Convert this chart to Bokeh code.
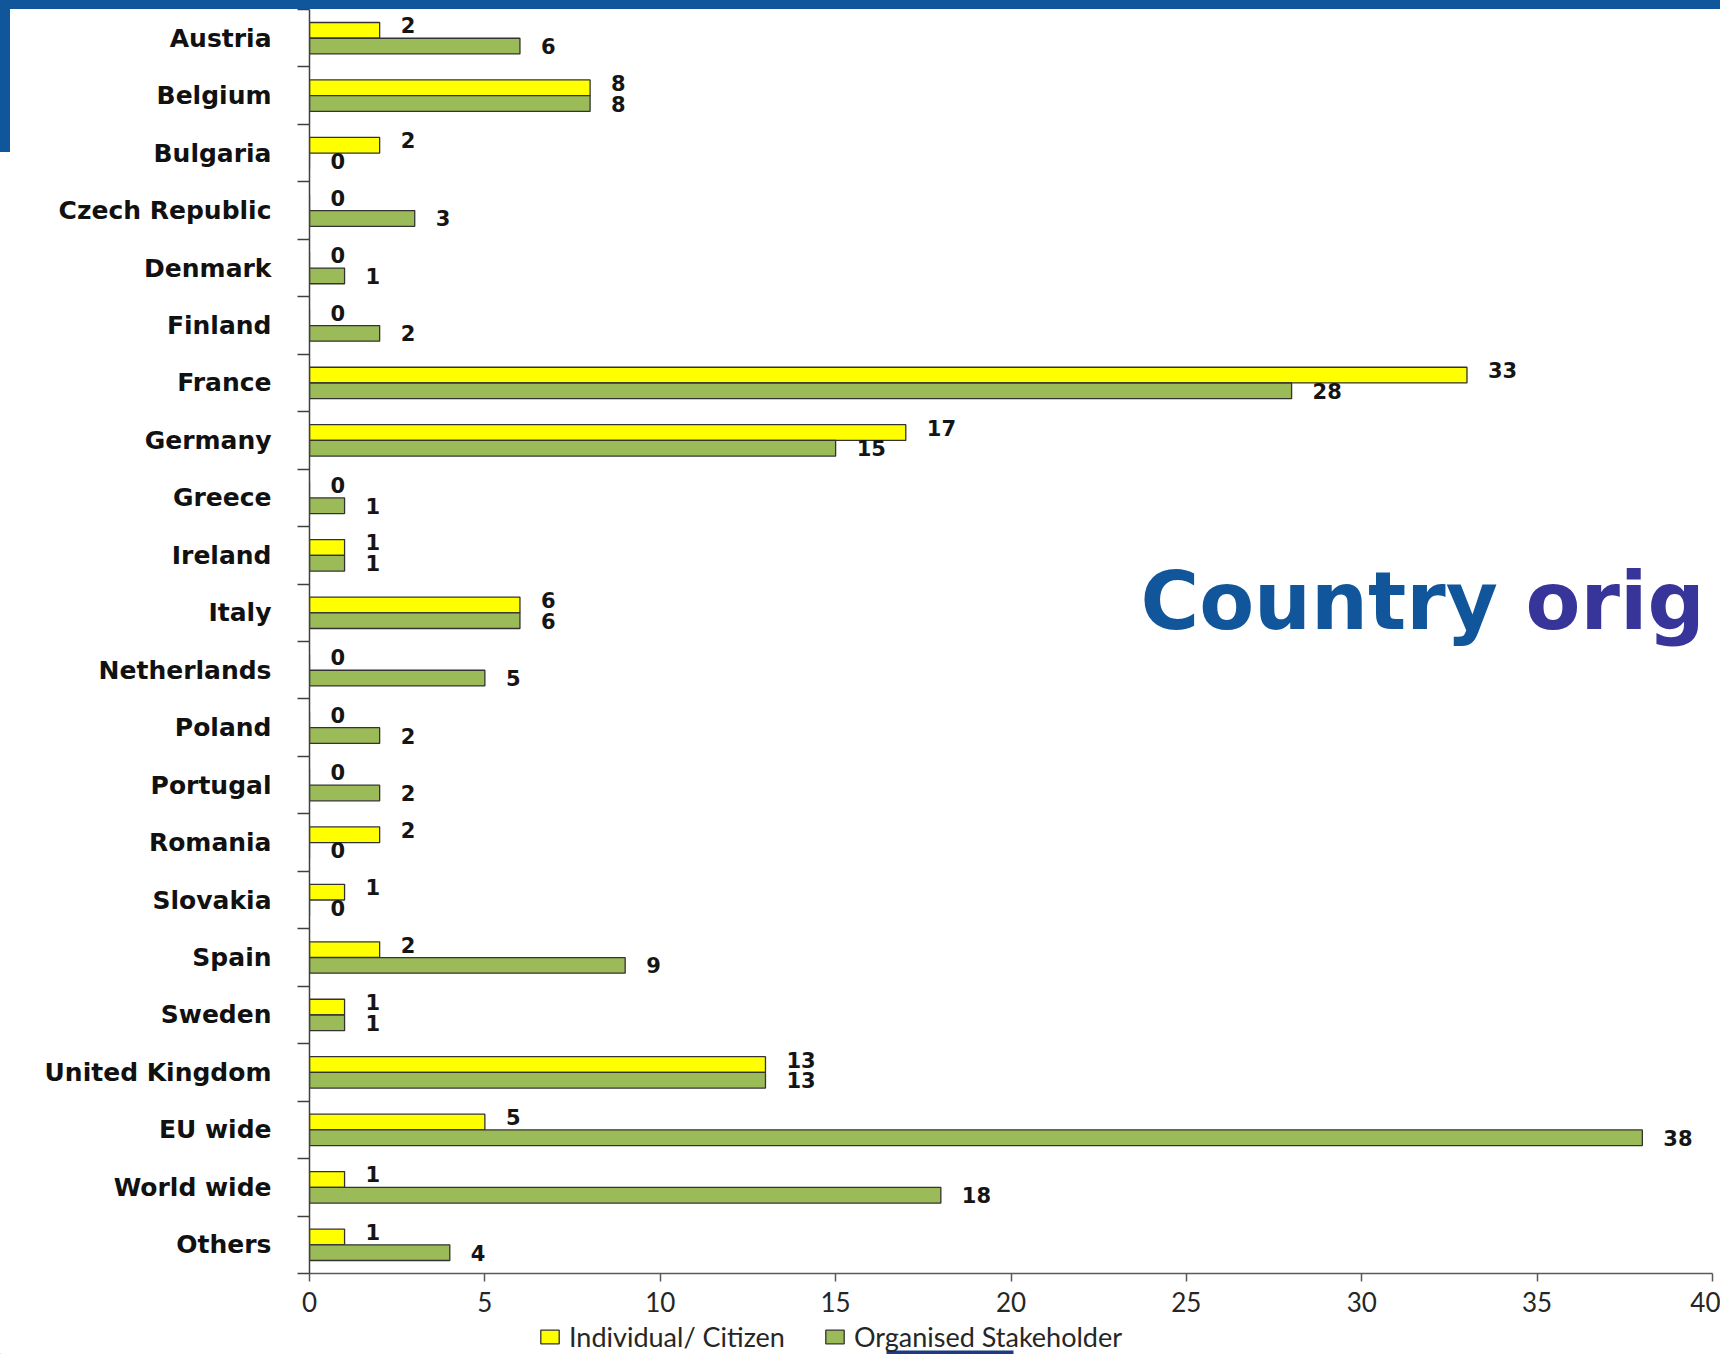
import numpy as np
from bokeh.plotting import figure
from bokeh.models import (Range1d, FixedTicker, ColumnDataSource, Legend, LegendItem,
                          Label, Spacer, BoxAnnotation)
from bokeh.layouts import column, row
from bokeh.transform import dodge
from bokeh.core.properties import value
from bokeh.embed import file_html
from bokeh.resources import INLINE

countries = ["Austria", "Belgium", "Bulgaria", "Czech Republic", "Denmark", "Finland",
             "France", "Germany", "Greece", "Ireland", "Italy", "Netherlands", "Poland",
             "Portugal", "Romania", "Slovakia", "Spain", "Sweden", "United Kingdom",
             "EU wide", "World wide", "Others"]
individual = [2, 8, 2, 0, 0, 0, 33, 17, 0, 1, 6, 0, 0, 0, 2, 1, 2, 1, 13, 5, 1, 1]
organised = [6, 8, 0, 3, 1, 2, 28, 15, 1, 1, 6, 5, 2, 2, 0, 0, 9, 1, 13, 38, 18, 4]
x_ticks = [0, 5, 10, 15, 20, 25, 30, 35, 40]
series_names = ["Individual/ Citizen", "Organised Stakeholder"]
series_colors = ["#FFFF00", "#9BBB59"]
title_part1 = "Country"
title_part2 = "orig"

n = len(countries)
pos = [n - 1 - i for i in range(n)]
src = ColumnDataSource(dict(
    pos=pos, country=countries, ind=individual, org=organised,
    ind_lbl=[str(v) for v in individual], org_lbl=[str(v) for v in organised]))

p = figure(width=1710, height=1311, output_backend="svg", toolbar_location=None,
           x_range=Range1d(0, 40), y_range=Range1d(-0.5, n - 0.5),
           min_border_left=299, min_border_right=8, min_border_top=0,
           min_border_bottom=47, outline_line_color=None,
           background_fill_color="white", border_fill_color="white")
p.grid.visible = False

BH = 0.273
DY = 0.137
p.hbar(y=dodge('pos', DY), left=0, right='ind', height=BH,
       fill_color=series_colors[0], line_color="#333333", line_width=1.3, source=src)
p.hbar(y=dodge('pos', -DY), left=0, right='org', height=BH,
       fill_color=series_colors[1], line_color="#333333", line_width=1.3, source=src)

lbl_kw = dict(text_align='left', text_baseline='middle', text_font=value("DejaVu Sans"),
              text_font_style='bold', text_font_size='21px', text_color='#151515', source=src)
p.text(x='ind', y=dodge('pos', DY), text='ind_lbl', x_offset=21, y_offset=-5, **lbl_kw)
p.text(x='org', y=dodge('pos', -DY), text='org_lbl', x_offset=21, y_offset=0, **lbl_kw)

xa = p.xaxis[0]
xa.ticker = FixedTicker(ticks=x_ticks)
xa.major_tick_out = 8
xa.major_tick_in = 0
xa.minor_tick_out = 0
xa.minor_tick_in = 0
xa.axis_line_color = "#595959"
xa.axis_line_width = 1.5
xa.major_tick_line_color = "#595959"
xa.major_tick_line_width = 1.5
xa.major_label_text_font = "Lato"
xa.major_label_text_font_size = "26px"
xa.major_label_text_color = "#262626"
xa.major_label_standoff = 10

ya = p.yaxis[0]
ya.ticker = FixedTicker(ticks=pos, minor_ticks=[k - 0.5 for k in range(n + 1)])
ya.major_tick_out = 0
ya.major_tick_in = 0
ya.minor_tick_out = 12
ya.minor_tick_in = 0
ya.axis_line_color = "#404040"
ya.axis_line_width = 1.5
ya.minor_tick_line_color = "#404040"
ya.minor_tick_line_width = 1.5
overrides = {}
for pp, c in zip(pos, countries):
    overrides[pp] = c
    overrides[str(pp)] = c
ya.major_label_overrides = overrides
ya.major_label_text_font = "DejaVu Sans"
ya.major_label_text_font_style = "bold"
ya.major_label_text_font_size = "25px"
ya.major_label_text_color = "#111111"
ya.major_label_standoff = 26

p.add_layout(Label(x=23.69, y=11.19, text=title_part1, text_font="DejaVu Sans",
                   text_font_style="bold", text_font_size="80px", text_color="#11569A",
                   text_baseline="alphabetic"))
p.add_layout(Label(x=34.67, y=11.19, text=title_part2, text_font="DejaVu Sans",
                   text_font_style="bold", text_font_size="80px", text_color="#37349A",
                   text_baseline="alphabetic"))

# legend strip below the chart (swatch renderers sit outside the visible range)
lg = figure(width=1720, height=34, output_backend="svg", toolbar_location=None,
            x_axis_type=None, y_axis_type=None, min_border=0, outline_line_color=None,
            x_range=Range1d(0, 1), y_range=Range1d(0, 1),
            background_fill_color="white", border_fill_color="white")
lg.grid.visible = False
sw = [lg.hbar(y=[-5], left=[-5], right=[-4.9], height=0.1, fill_color=c,
              line_color="#333333", line_width=1.3) for c in series_colors]
legend = Legend(items=[LegendItem(label=nm, renderers=[r]) for nm, r in zip(series_names, sw)],
                orientation='horizontal', location=(538, 1), padding=0, margin=0,
                spacing=38, label_standoff=8, glyph_width=23, glyph_height=17,
                label_height=20,
                label_text_font="Lato", label_text_font_size="27px",
                label_text_color="#262626",
                border_line_color=None, background_fill_alpha=0)
lg.add_layout(legend, 'center')
lg.add_layout(BoxAnnotation(left=886 / 1720, right=1013 / 1720, bottom=0, top=4 / 34,
                            fill_color="#1F3A80", fill_alpha=1, line_color=None))

blue = {"background-color": "#10569A"}
top_bar = Spacer(width=1720, height=9, styles=blue)
left_bar = Spacer(width=10, height=143, styles=blue, align="start")
layout = column(top_bar, row(left_bar, p, spacing=0), lg, spacing=0)

open("out.html", "w").write(file_html(layout, INLINE))
